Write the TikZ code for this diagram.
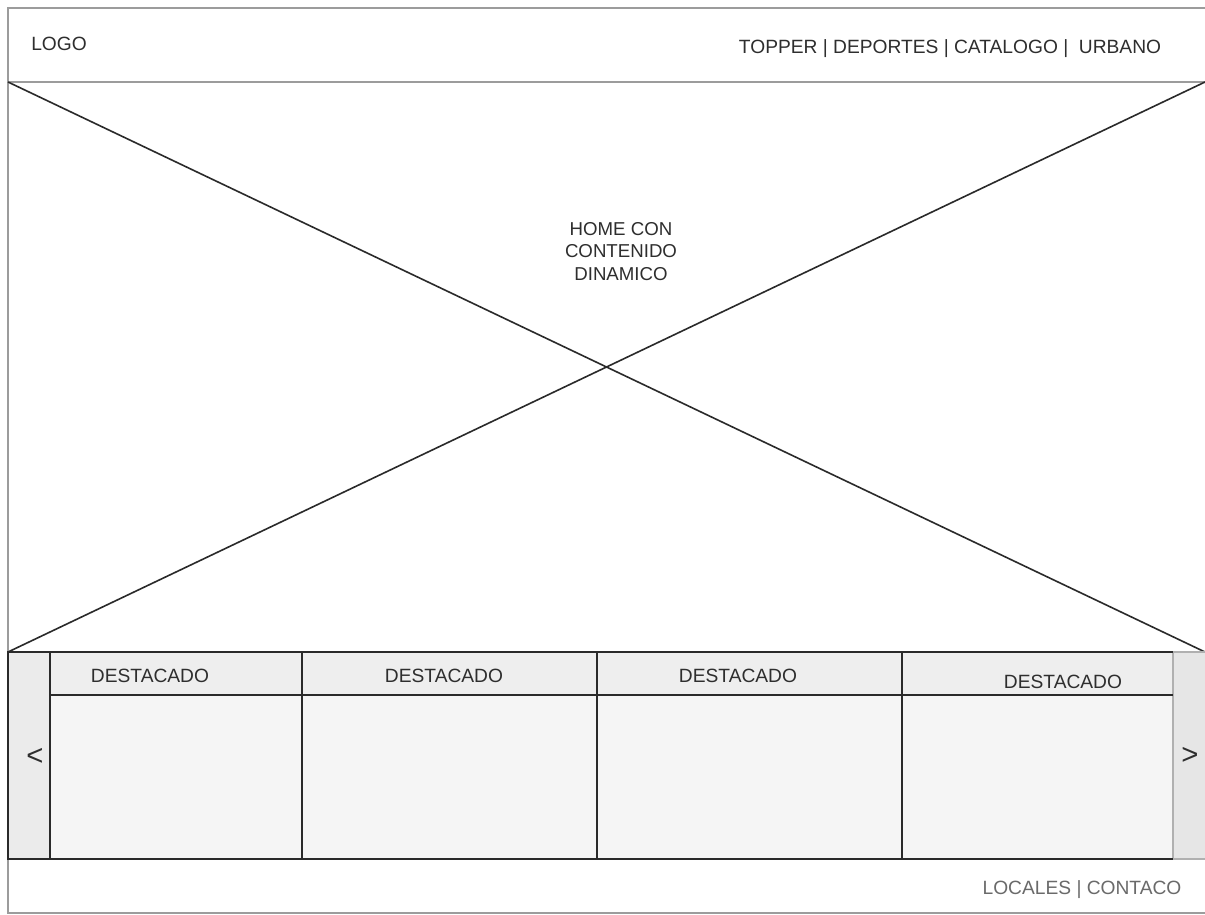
\documentclass[tikz,border=0pt]{standalone}
\usepackage{fontspec}
\setmainfont{Liberation Sans}
\definecolor{framegray}{HTML}{9C9C9C}
\definecolor{inkdark}{HTML}{2A2A2A}
\definecolor{txt}{HTML}{2E2E2E}
\definecolor{txtlight}{HTML}{6A6A6A}
\definecolor{navfill}{HTML}{EBEBEB}
\definecolor{navfillR}{HTML}{E6E6E6}
\definecolor{headfill}{HTML}{EEEEEE}
\definecolor{bodyfill}{HTML}{F5F5F5}
\tikzset{
  pageline/.style={draw=framegray, line width=0.9pt},
  crossline/.style={draw=inkdark, line width=1.2pt},
  stripline/.style={draw=inkdark, line width=1.5pt},
  softline/.style={draw=framegray!80, line width=0.9pt},
  label/.style={inner sep=0pt, anchor=base, text=txt, font=\fontsize{14.4}{17}\selectfont},
  footlabel/.style={label, text=txtlight},
  arrowlabel/.style={inner sep=0pt, anchor=center, text=txt, font=\fontsize{22}{22}\selectfont},
}
\begin{document}
\begin{tikzpicture}[x=0.75pt, y=-0.75pt]
\useasboundingbox (0,0) rectangle (1205,914);
\fill[white] (0,0) rectangle (1205,914);

% page outline and header separator
\draw[pageline] (1205,8) -- (8,8) -- (8,913) -- (1205,913);
\draw[pageline] (8,82) -- (1205,82);

% hero placeholder: crossed box
\coordinate (heroTL) at (8,82);
\coordinate (heroTR) at (1205,82);
\coordinate (heroBL) at (8,652);
\coordinate (heroBR) at (1205,652);
\draw[crossline] (heroTL) -- (heroBR);
\draw[crossline] (heroTR) -- (heroBL);

% carousel backgrounds
\fill[navfill]  (8,652) rectangle (50,859);
\fill[navfillR] (1173,652) rectangle (1205,859);
\fill[headfill] (50,652) rectangle (1173,695);
\fill[bodyfill] (50,695) rectangle (1173,859);

% carousel lines
\draw[softline] (1173,652) -- (1205,652);
\draw[softline] (1173,859) -- (1205,859);
\draw[softline] (1173,652) -- (1173,859);
\draw[stripline] (1173,652) -- (8,652) -- (8,859) -- (1173,859);
\draw[stripline] (50,695) -- (1173,695);
\foreach \xx in {50,302,597,902}
  \draw[stripline] (\xx,652) -- (\xx,859);

% texts
\node[label] (logo) at (59,50.5) {LOGO};
\node[label] (menu) at (950,53) {TOPPER | DEPORTES | CATALOGO |\ \ URBANO};
\node[label, align=center, font=\fontsize{14}{17}\selectfont, anchor=north] (hero) at (621,222)
  {HOME CON\\CONTENIDO\\DINAMICO};
\node[label] (feat1) at (150,682.5) {DESTACADO};
\node[label] (feat2) at (444,682.5) {DESTACADO};
\node[label] (feat3) at (738,682.5) {DESTACADO};
\node[label] (feat4) at (1063,688) {DESTACADO};
\node[arrowlabel] (prev) at (35,757) {<};
\node[arrowlabel] (next) at (1190,756) {>};
\node[footlabel] (foot) at (1082,894) {LOCALES | CONTACO};
\end{tikzpicture}
\end{document}
